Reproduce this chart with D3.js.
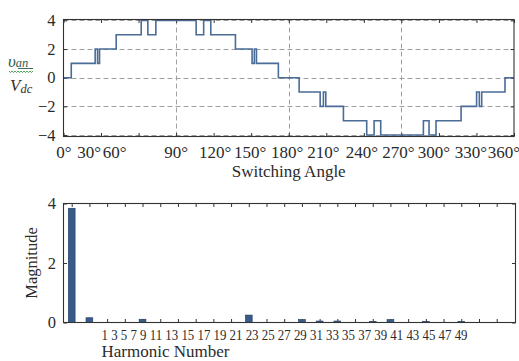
<!DOCTYPE html>
<html><head><meta charset="utf-8">
<script src="https://cdn.jsdelivr.net/npm/d3@7"></script>
<style>
body{margin:0;background:#fff}
svg{display:block}
text{font-family:"Liberation Serif","Tinos","Times New Roman","DejaVu Serif",serif;fill:#2b2b2b}
</style>
</head><body>
<svg id="c" width="519" height="361"></svg>
<script>
// ---------- data: top chart (staircase waveform) ----------
const switchAngles = [0, 6.2, 25.3, 27.2, 28.8, 42.1, 62.1, 67.4, 73.8, 106.0, 112.0, 117.7, 137.4, 150.7, 152.5, 154.2, 171.7,
  188.3, 205.1, 207.7, 209.6, 223.7, 242.3, 248.2, 253.5, 287.6, 292.1, 297.7, 317.7, 330.1, 332.3, 334.2, 352.8];
const levels = [0, 1, 2, 1, 2, 3, 4, 3, 4, 3, 4, 3, 2, 1, 2, 1, 0,
  -1, -2, -1, -2, -3, -4, -3, -4, -3, -4, -3, -2, -1, -2, -1, 0];
const angleTicks = [0, 30, 60, 90, 120, 150, 180, 210, 240, 270, 300, 330, 360];
const angleTickLabels = ["0°", "30°", "60°", "90°", "120°", "150°", "180°", "210°", "240°", "270°", "300°", "330°", "360°"];
const gridAngles = [90, 180, 270];
const voltTicks = [-4, -2, 0, 2, 4];
const voltTickLabels = ["\u22124", "\u22122", "0", "2", "4"];
const topXTitle = "Switching Angle";

// ---------- data: bottom chart (harmonic spectrum) ----------
const harmonics = [1, 3, 5, 7, 9, 11, 13, 15, 17, 19, 21, 23, 25, 27, 29, 31, 33, 35, 37, 39, 41, 43, 45, 47, 49];
const magnitudes = [3.84, 0.16, 0, 0, 0.11, 0, 0, 0, 0, 0, 0.25, 0, 0, 0.10, 0.05, 0.05, 0, 0.04, 0.10, 0, 0.04, 0, 0.04, 0, 0];
const magTicks = [0, 2, 4];
const magTickLabels = ["0", "2", "4"];
const botXTitle = "Harmonic Number";
const botYTitle = "Magnitude";

const svg = d3.select("#c");
const frameCol = "#333", gridCol = "#a0a0a0";

// ================= TOP CHART =================
const L1 = 63.5, R1 = 514, T1 = 19.5, B1 = 136.5;
const x1 = d3.scaleLinear().domain([0, 360]).range([L1, R1]);
const y1 = d3.scaleLinear().domain([-4.1, 4.06]).range([B1, T1]);
const g1 = svg.append("g");

g1.selectAll("line.hg").data(voltTicks).join("line")
  .attr("x1", L1).attr("x2", R1)
  .attr("y1", d => Math.round(y1(d)) + 0.5).attr("y2", d => Math.round(y1(d)) + 0.5)
  .attr("stroke", gridCol).attr("stroke-dasharray", "5,3").attr("stroke-width", 1);
g1.selectAll("line.vg").data(gridAngles).join("line")
  .attr("x1", d => Math.round(x1(d)) + 0.5).attr("x2", d => Math.round(x1(d)) + 0.5)
  .attr("y1", T1).attr("y2", B1)
  .attr("stroke", gridCol).attr("stroke-dasharray", "5,3").attr("stroke-width", 1);

const tickLen = 3.5;
const axB1 = d3.axisBottom(x1).tickValues(angleTicks).tickSize(-tickLen).tickFormat("");
const axT1 = d3.axisTop(x1).tickValues(angleTicks).tickSize(-tickLen).tickFormat("");
const axL1 = d3.axisLeft(y1).tickValues(voltTicks).tickSize(-tickLen).tickFormat("");
const axR1 = d3.axisRight(y1).tickValues(voltTicks).tickSize(-tickLen).tickFormat("");
[[axB1, `translate(0,${B1})`], [axT1, `translate(0,${T1})`], [axL1, `translate(${L1},0)`], [axR1, `translate(${R1},0)`]]
  .forEach(([ax, tr]) => {
    const a = g1.append("g").attr("transform", tr).call(ax);
    a.select(".domain").remove();
    a.selectAll(".tick line").attr("stroke", frameCol);
  });

const pts = switchAngles.map((a, i) => [a, levels[i]]).concat([[360, 0]]);
g1.append("path").datum(pts)
  .attr("d", d3.line().x(d => x1(d[0])).y(d => y1(d[1])).curve(d3.curveStepAfter))
  .attr("fill", "none").attr("stroke", "#4a6c98").attr("stroke-width", 1.6);

g1.append("rect").attr("x", L1).attr("y", T1).attr("width", R1 - L1).attr("height", B1 - T1)
  .attr("fill", "none").attr("stroke", frameCol).attr("stroke-width", 1.1);

const topNudge = [0.5, -12, -24, 0, 1.5, -1, -1.5, -3, -2, -3, -5, -5.5, -10];
g1.selectAll("text.xl").data(angleTicks).join("text")
  .attr("x", (d, i) => x1(d) + topNudge[i]).attr("y", 157.5)
  .attr("text-anchor", "middle").attr("font-size", 17)
  .text((d, i) => angleTickLabels[i]);
g1.selectAll("text.yl").data(voltTicks).join("text")
  .attr("x", 55.5).attr("y", d => y1(d)).attr("dy", "0.34em")
  .attr("text-anchor", "end").attr("font-size", 16.5)
  .text((d, i) => voltTickLabels[i]);
g1.append("text").attr("x", x1(180)).attr("y", 177).attr("text-anchor", "middle")
  .attr("font-size", 17).text(topXTitle);

const yl = g1.append("g");
const t1 = yl.append("text").attr("x", 8).attr("y", 66.5).attr("font-size", 17).attr("font-style", "italic")
  .style("fill", "#2f5b4c");
t1.append("tspan").text("υ");
t1.append("tspan").attr("font-size", 12.5).attr("dy", 0.5).text("an");
yl.append("line").attr("x1", 18).attr("x2", 33).attr("y1", 68.5).attr("y2", 68.5)
  .attr("stroke", "#2f5b4c").attr("stroke-width", 0.9);
let sq = "M9,71";
for (let xx = 9, k = 0; xx < 33; xx += 1.5, k++) sq += ` L${xx + 1.5},${k % 2 ? 71 : 72.6}`;
yl.append("path").attr("d", sq).attr("fill", "none").attr("stroke", "#3f9a3f").attr("stroke-width", 0.9);
const t2 = yl.append("text").attr("x", 10).attr("y", 90.5).attr("font-size", 17).attr("font-style", "italic")
  .style("fill", "#3a2e24");
t2.append("tspan").text("V");
t2.append("tspan").attr("font-size", 12.5).attr("dy", 2.5).text("dc");

// ================= BOTTOM CHART =================
const L2 = 63.5, R2 = 515.5, T2 = 203.5, B2 = 322.5;
const x2 = d3.scalePoint().domain(harmonics).range([71.7, 496.7]);
const y2 = d3.scaleLinear().domain([0, 4]).range([B2, T2]);
const g2 = svg.append("g");

const axB2 = d3.axisBottom(x2).tickSize(-tickLen).tickFormat("");
const axT2 = d3.axisTop(x2).tickSize(-tickLen).tickFormat("");
const axL2 = d3.axisLeft(y2).tickValues(magTicks).tickSize(-tickLen).tickFormat("");
const axR2 = d3.axisRight(y2).tickValues(magTicks).tickSize(-tickLen).tickFormat("");
[[axB2, `translate(0,${B2})`], [axT2, `translate(0,${T2})`], [axL2, `translate(${L2},0)`], [axR2, `translate(${R2},0)`]]
  .forEach(([ax, tr]) => {
    const a = g2.append("g").attr("transform", tr).call(ax);
    a.select(".domain").remove();
    a.selectAll(".tick line").attr("stroke", frameCol);
  });

const bw = 6.8;
g2.selectAll("rect.bar").data(harmonics).join("rect")
  .attr("x", d => x2(d) - bw / 2).attr("width", bw)
  .attr("y", (d, i) => y2(magnitudes[i]))
  .attr("height", (d, i) => y2(0) - y2(magnitudes[i]))
  .attr("fill", "#385c8a").attr("stroke", "#223a5c").attr("stroke-width", 0.6);

g2.append("rect").attr("x", L2).attr("y", T2).attr("width", R2 - L2).attr("height", B2 - T2)
  .attr("fill", "none").attr("stroke", frameCol).attr("stroke-width", 1.1);

g2.selectAll("text.yl").data(magTicks).join("text")
  .attr("x", 56).attr("y", d => y2(d)).attr("dy", "0.34em")
  .attr("text-anchor", "end").attr("font-size", 16.5)
  .text((d, i) => magTickLabels[i]);

// harmonic labels, packed as in the reference
g2.append("text").attr("x", 101.5).attr("y", 339.5).attr("font-size", 14)
  .attr("textLength", 366).attr("lengthAdjust", "spacingAndGlyphs")
  .text(harmonics.join(" "));

g2.append("text").attr("x", 101.5).attr("y", 357).attr("font-size", 17).text(botXTitle);
g2.append("text").attr("transform", `translate(37,${y2(2)}) rotate(-90)`)
  .attr("text-anchor", "middle").attr("font-size", 16.5).text(botYTitle);
</script>
</body></html>
